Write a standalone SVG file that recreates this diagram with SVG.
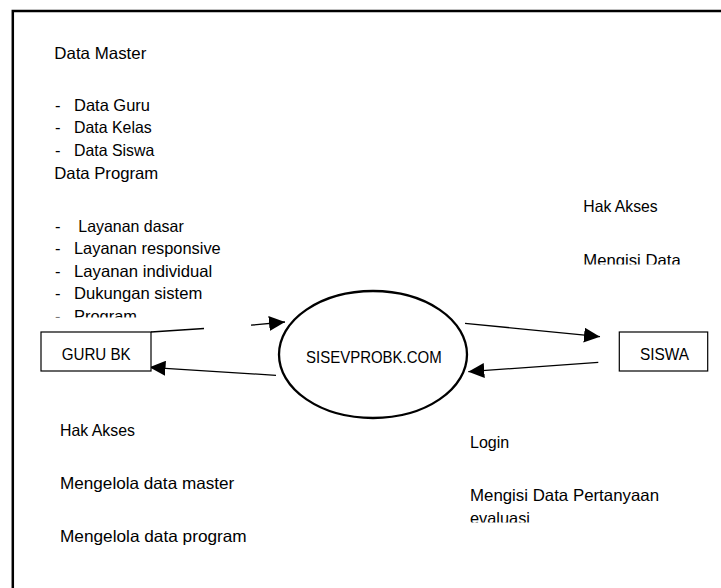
<svg xmlns="http://www.w3.org/2000/svg" width="721" height="588" viewBox="0 0 721 588">
<style>
text{font-family:"Liberation Sans",Arial,sans-serif;font-size:16.5px;fill:#000}
.box{fill:#fff;stroke:#000;stroke-width:1.2}
.conn{fill:none;stroke:#000;stroke-width:1.3}
</style>
<defs>
<marker id="ah" viewBox="0 0 16 15" refX="16" refY="7.5" markerWidth="16" markerHeight="15" markerUnits="userSpaceOnUse" orient="auto">
<path d="M0,0 L16,7.5 L0,15 z" fill="#000"/>
</marker>
<clipPath id="clipProg"><rect x="0" y="0" width="721" height="317.5"/></clipPath>
<clipPath id="clipMengisi"><rect x="0" y="0" width="721" height="264.5"/></clipPath>
<clipPath id="clipEval"><rect x="0" y="0" width="721" height="522.5"/></clipPath>
</defs>
<rect width="721" height="588" fill="#fff"/>
<path d="M12.8,800 L12.8,11 L800,11" fill="none" stroke="#000" stroke-width="2.5"/>

<g id="labels-master">
<text x="54.3" y="59" textLength="92" lengthAdjust="spacingAndGlyphs">Data Master</text>
<text x="55" y="110.7">-</text><text x="74" y="110.7" textLength="76" lengthAdjust="spacingAndGlyphs">Data Guru</text>
<text x="55" y="133.3">-</text><text x="74" y="133.3" textLength="77.7" lengthAdjust="spacingAndGlyphs">Data Kelas</text>
<text x="55" y="156">-</text><text x="74" y="156" textLength="80.3" lengthAdjust="spacingAndGlyphs">Data Siswa</text>
<text x="54.3" y="179" textLength="104" lengthAdjust="spacingAndGlyphs">Data Program</text>
<text x="55" y="232.3">-</text><text x="78.3" y="232.3" textLength="105.4" lengthAdjust="spacingAndGlyphs">Layanan dasar</text>
<text x="55" y="254">-</text><text x="74" y="254" textLength="146.7" lengthAdjust="spacingAndGlyphs">Layanan responsive</text>
<text x="55" y="276.7">-</text><text x="74" y="276.7" textLength="138.3" lengthAdjust="spacingAndGlyphs">Layanan individual</text>
<text x="55" y="299.3">-</text><text x="74" y="299.3" textLength="128.3" lengthAdjust="spacingAndGlyphs">Dukungan sistem</text>
<g clip-path="url(#clipProg)">
<text x="55" y="322">-</text><text x="74" y="322" textLength="63" lengthAdjust="spacingAndGlyphs">Program</text>
</g>
</g>

<g id="labels-siswa-top">
<text x="583.3" y="212.3" textLength="74.4" lengthAdjust="spacingAndGlyphs">Hak Akses</text>
<g clip-path="url(#clipMengisi)">
<text x="583.3" y="265.7" textLength="97.4" lengthAdjust="spacingAndGlyphs">Mengisi Data</text>
</g>
</g>

<g id="connectors">
<path class="conn" d="M151,332 L204,328.5 M251,325.2 L285,322" marker-end="url(#ah)"/>
<path class="conn" d="M276,375.3 L149.5,367.3" marker-end="url(#ah)"/>
<path class="conn" d="M465,323.3 L600,336.7" marker-end="url(#ah)"/>
<path class="conn" d="M598.3,362.3 L468.3,371.7" marker-end="url(#ah)"/>
</g>

<g id="guru-bk">
<rect class="box" x="41" y="332" width="110" height="39"/>
<text x="61.7" y="360" textLength="69" lengthAdjust="spacingAndGlyphs">GURU BK</text>
</g>

<g id="sisevprobk">
<ellipse cx="373" cy="354.5" rx="94" ry="63.5" fill="none" stroke="#000" stroke-width="2.3"/>
<text x="306" y="363" textLength="135.7" lengthAdjust="spacingAndGlyphs">SISEVPROBK.COM</text>
</g>

<g id="siswa">
<rect class="box" x="619.3" y="332" width="88.4" height="39"/>
<text x="640" y="360" textLength="49" lengthAdjust="spacingAndGlyphs">SISWA</text>
</g>

<g id="labels-guru-bottom">
<text x="60" y="436" textLength="75" lengthAdjust="spacingAndGlyphs">Hak Akses</text>
<text x="60" y="489.3" textLength="174.3" lengthAdjust="spacingAndGlyphs">Mengelola data master</text>
<text x="60" y="542.3" textLength="186.7" lengthAdjust="spacingAndGlyphs">Mengelola data program</text>
</g>

<g id="labels-siswa-bottom">
<text x="470" y="447.7" textLength="39.3" lengthAdjust="spacingAndGlyphs">Login</text>
<text x="470" y="501" textLength="189" lengthAdjust="spacingAndGlyphs">Mengisi Data Pertanyaan</text>
<g clip-path="url(#clipEval)">
<text x="470" y="523.7" textLength="60" lengthAdjust="spacingAndGlyphs">evaluasi</text>
</g>
</g>
</svg>
